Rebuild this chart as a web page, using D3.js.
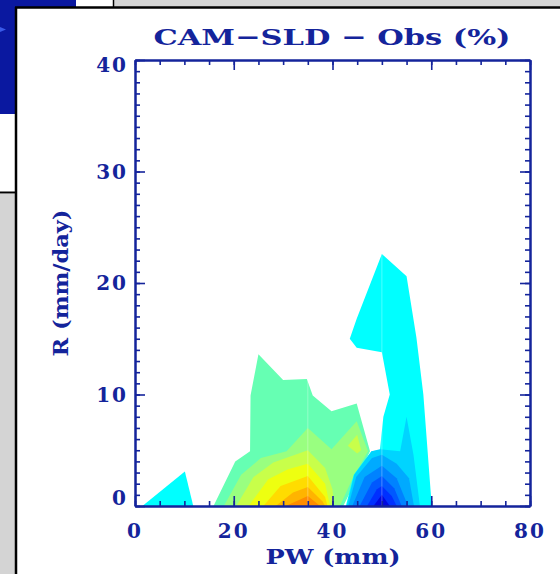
<!DOCTYPE html>
<html lang="en">
<head>
<meta charset="UTF-8">
<title>CAM-SLD - Obs</title>
<style>
  body { margin: 0; background: #fff; }
  svg text { font-family: "DejaVu Serif", "Liberation Serif", serif; font-weight: bold; fill: #14249b; }
  .axis path, .axis line { stroke: #14249b; }
</style>
</head>
<body>
<div id="chart"></div>
<script src="https://d3js.org/d3.v7.min.js"></script>
<script>
// tick values
var pwTicks = [0, 20, 40, 60, 80];
var rTicks = [0, 10, 20, 30, 40];
var pwMinorStep = 5;
var rMinorStep = 1;

// positive difference contours (PW, R), outer -> inner
var posColors = ["#66ffb3", "#99ff80", "#c8ff4a", "#eeff10", "#ffdc00", "#ffb400", "#ff8c00"];
var pos1 = [[15.9,0],[20.3,4.0],[23.3,4.9],[23.4,9.9],[25,13.6],[30,11.3],[34.8,11.4],[36,9.9],[39.8,8.5],[44.9,9.2],[47.6,4.9],[42.2,0]];
var pos2 = [[18,0],[21.5,2.8],[25.5,4.3],[30.7,4.9],[35,7.0],[39.8,5.1],[44.9,7.6],[47.2,4.9],[44,2.4],[41.5,0]];
var pos3 = [[20.5,0],[24,2.6],[28,3.9],[35,5.0],[38.5,3.4],[40,1.5],[40.3,0]];
var pos4 = [[23,0],[27,2.4],[31,3.3],[35,3.8],[38.5,2.0],[39.5,0]];
var pos5 = [[26,0],[29.5,1.8],[35,2.7],[38.5,0.8],[39,0]];
var pos6 = [[28.5,0],[32,1.2],[35,1.7],[38,0.4],[38.5,0]];
var pos7 = [[30.5,0],[33,0.5],[35,0.9],[37.5,0]];
var posBlob = [[43.1,5.4],[45,6.4],[45.8,5.0],[45,4.7]];

// negative difference contours, outer -> inner
var negColors = ["#00ffff", "#00d4ff", "#00aaff", "#0082ff", "#0058ff", "#0030ff", "#0008e0"];
var negLeft = [[1.5,0],[10.1,3.1],[11.8,0]];
var neg1 = [[42.7,0],[44.3,2.8],[47.9,4.9],[49.6,5.0],[50.3,8.0],[51.6,10],[50,13.8],[44.9,14.2],[43.5,15],[44.9,16.8],[50,22.6],[55,20.6],[57.0,15.1],[58.4,10],[60.1,0]];
var neg2 = [[42.9,0],[44.4,2.8],[47.9,4.9],[49.6,5.1],[53.7,4.9],[55,8],[56.4,4.6],[57.7,0]];
var neg3 = [[43.2,0],[44.8,2.6],[48,4.3],[50,4.6],[53,3.8],[55.5,2.5],[56.5,0]];
var neg4 = [[44,0],[46.5,2.6],[50,3.6],[53,2.5],[55.3,0]];
var neg5 = [[45.5,0],[48,2.1],[50,2.7],[52.5,1.6],[54,0]];
var neg6 = [[47,0],[49,1.5],[50,1.8],[52,0.9],[53,0]];
var neg7 = [[48.3,0],[50,1.0],[51.6,0]];

// faint grid seams visible inside the filled areas
var seamPW = [35, 50];

var width = 560, height = 574;
var svg = d3.select("#chart").append("svg").attr("width", width).attr("height", height);

// slide background pieces
svg.append("rect").attr("width", width).attr("height", height).attr("fill", "#fff");
svg.append("rect").attr("x", 0).attr("y", 0).attr("width", 76).attr("height", 8).attr("fill", "#0a18a0");
svg.append("rect").attr("x", 0).attr("y", 0).attr("width", 16).attr("height", 114).attr("fill", "#0a18a0");
svg.append("path").attr("d", "M0,27 L6,29.5 L0,32 Z").attr("fill", "#3a5ae8");
svg.append("rect").attr("x", 114).attr("y", 0).attr("width", 446).attr("height", 7).attr("fill", "#d4d4d4");
svg.append("rect").attr("x", 0).attr("y", 194).attr("width", 15).attr("height", 380).attr("fill", "#d4d4d4");
svg.append("line").attr("x1", 113.5).attr("x2", 113.5).attr("y1", 0).attr("y2", 7).attr("stroke", "#000").attr("stroke-width", 1.5);
svg.append("line").attr("x1", 15).attr("x2", 560).attr("y1", 7.5).attr("y2", 7.5).attr("stroke", "#000").attr("stroke-width", 2.5);
svg.append("line").attr("x1", 16).attr("x2", 16).attr("y1", 7).attr("y2", 574).attr("stroke", "#000").attr("stroke-width", 2.5);
svg.append("line").attr("x1", 0).attr("x2", 15).attr("y1", 192.5).attr("y2", 192.5).attr("stroke", "#000").attr("stroke-width", 2);

var x = d3.scaleLinear().domain([0, 80]).range([135, 530]);
var y = d3.scaleLinear().domain([0, 40]).range([506, 60]);

var line = d3.line().x(function(d) { return x(d[0]); }).y(function(d) { return y(d[1]); }).curve(d3.curveLinearClosed);

var plot = svg.append("g");
plot.append("path").attr("d", line(negLeft)).attr("fill", negColors[0]);
[pos1, pos2, pos3, pos4, pos5, pos6, pos7].forEach(function(p, i) {
    plot.append("path").attr("d", line(p)).attr("fill", posColors[i]);
});
plot.append("path").attr("d", line(posBlob)).attr("fill", posColors[2]);
[neg1, neg2, neg3, neg4, neg5, neg6, neg7].forEach(function(p, i) {
    plot.append("path").attr("d", line(p)).attr("fill", negColors[i]);
});

// seams clipped to the outer contours
var clip = svg.append("clipPath").attr("id", "fillclip");
[pos1, neg1].forEach(function(p) { clip.append("path").attr("d", line(p)); });
plot.append("g").attr("clip-path", "url(#fillclip)")
    .selectAll("line").data(seamPW).enter().append("line")
    .attr("x1", function(d) { return x(d); }).attr("x2", function(d) { return x(d); })
    .attr("y1", y(40)).attr("y2", y(0))
    .attr("stroke", "#fff").attr("stroke-opacity", 0.3).attr("stroke-width", 1);

// axes, ticks pointing inward
function minor(domain, step) { return d3.range(domain[0], domain[1] + 0.001, step); }
function drawAxis(axisFn, scale, vals, size, tr) {
    svg.append("g").attr("class", "axis").attr("transform", tr)
        .call(axisFn(scale).tickValues(vals).tickSize(size).tickSizeOuter(0).tickFormat(""))
        .call(function(g) { g.selectAll("line").attr("stroke-width", 1.6); g.select(".domain").attr("stroke-width", 2); });
}
var xm = minor(x.domain(), pwMinorStep), ym = minor(y.domain(), rMinorStep);
drawAxis(d3.axisBottom, x, xm, -5, "translate(0,506)");
drawAxis(d3.axisBottom, x, pwTicks, -10, "translate(0,506)");
drawAxis(d3.axisTop, x, xm, -5, "translate(0,60)");
drawAxis(d3.axisTop, x, pwTicks, -10, "translate(0,60)");
drawAxis(d3.axisLeft, y, ym, -5, "translate(135,0)");
drawAxis(d3.axisLeft, y, rTicks, -10, "translate(135,0)");
drawAxis(d3.axisRight, y, ym, -5, "translate(530,0)");
drawAxis(d3.axisRight, y, rTicks, -10, "translate(530,0)");

// tick labels
svg.selectAll(".xl").data(pwTicks).enter().append("text")
    .attr("x", function(d) { return x(d); }).attr("y", 538)
    .attr("text-anchor", "middle").attr("font-size", 20).attr("letter-spacing", 2)
    .text(function(d) { return d; });
svg.selectAll(".yl").data(rTicks).enter().append("text")
    .attr("x", 128).attr("y", function(d, i) {
        var shift = i === 0 ? -8 : (i === rTicks.length - 1 ? 5 : 0);
        return y(d) + 7 + shift;
    })
    .attr("text-anchor", "end").attr("font-size", 20).attr("letter-spacing", 2)
    .text(function(d) { return d; });

// titles
svg.append("text").attr("x", 332).attr("y", 45).attr("text-anchor", "middle")
    .attr("font-size", 23).attr("textLength", 357).attr("lengthAdjust", "spacingAndGlyphs")
    .text("CAM\u2212SLD \u2212 Obs (%)");
svg.append("text").attr("x", 333).attr("y", 564).attr("text-anchor", "middle")
    .attr("font-size", 21).attr("textLength", 135).attr("lengthAdjust", "spacingAndGlyphs")
    .text("PW (mm)");
svg.append("text").attr("transform", "translate(68,283) rotate(-90)").attr("text-anchor", "middle")
    .attr("font-size", 21).attr("textLength", 147).attr("lengthAdjust", "spacingAndGlyphs")
    .text("R (mm/day)");
</script>
</body>
</html>
